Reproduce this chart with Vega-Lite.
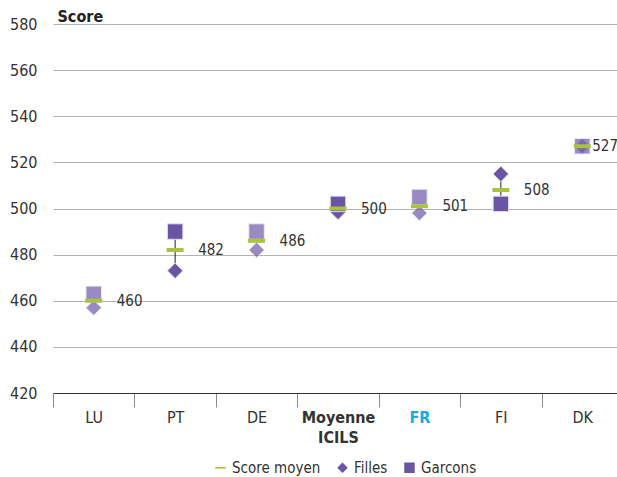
{
  "$schema": "https://vega.github.io/schema/vega-lite/v6.json",
  "autosize": "none",
  "width": 564,
  "height": 369,
  "padding": {"left": 53, "top": 24, "right": 0, "bottom": 84},
  "background": "white",
  "config": {
    "font": "DejaVu Sans Condensed, sans-serif",
    "view": {"stroke": null},
    "axis": {"labelFontSize": 15, "labelColor": "#333333", "labelFont": "DejaVu Sans Condensed, sans-serif"},
    "legend": {"labelFontSize": 15, "labelColor": "#333333", "labelFont": "DejaVu Sans Condensed, sans-serif"}
  },
  "data": {
    "values": [
      {"pays": "LU", "serie": "Score moyen", "score": 460, "sig": "non"},
      {"pays": "LU", "serie": "Filles", "score": 457, "sig": "non"},
      {"pays": "LU", "serie": "Garcons", "score": 463, "sig": "non"},
      {"pays": "PT", "serie": "Score moyen", "score": 482, "sig": "oui"},
      {"pays": "PT", "serie": "Filles", "score": 473, "sig": "oui"},
      {"pays": "PT", "serie": "Garcons", "score": 490, "sig": "oui"},
      {"pays": "DE", "serie": "Score moyen", "score": 486, "sig": "non"},
      {"pays": "DE", "serie": "Filles", "score": 482, "sig": "non"},
      {"pays": "DE", "serie": "Garcons", "score": 490, "sig": "non"},
      {"pays": "Moyenne ICILS", "serie": "Score moyen", "score": 500, "sig": "oui"},
      {"pays": "Moyenne ICILS", "serie": "Filles", "score": 498.5, "sig": "oui"},
      {"pays": "Moyenne ICILS", "serie": "Garcons", "score": 502, "sig": "oui"},
      {"pays": "FR", "serie": "Score moyen", "score": 501, "sig": "non"},
      {"pays": "FR", "serie": "Filles", "score": 498, "sig": "non"},
      {"pays": "FR", "serie": "Garcons", "score": 505, "sig": "non"},
      {"pays": "FI", "serie": "Score moyen", "score": 508, "sig": "oui"},
      {"pays": "FI", "serie": "Filles", "score": 515, "sig": "oui"},
      {"pays": "FI", "serie": "Garcons", "score": 502, "sig": "oui"},
      {"pays": "DK", "serie": "Score moyen", "score": 527, "sig": "non"},
      {"pays": "DK", "serie": "Filles", "score": 527, "sig": "non"},
      {"pays": "DK", "serie": "Garcons", "score": 527, "sig": "non"}
    ]
  },
  "encoding": {
    "x": {
      "field": "pays", "type": "nominal", "sort": null,
      "scale": {"domain": ["LU", "PT", "DE", "Moyenne ICILS", "FR", "FI", "DK"], "paddingInner": 0, "paddingOuter": 0, "range": [0, 570]},
      "axis": {
        "title": null, "labelAngle": 0, "tickBand": "extent", "tickSize": 14, "tickColor": "#8a8a8a",
        "domainColor": "#333333", "labelPadding": 2, "grid": false, "labelFontSize": 16,
        "labelExpr": "datum.value == 'Moyenne ICILS' ? ['Moyenne', 'ICILS'] : datum.value",
        "labelFontWeight": {"condition": {"test": "datum.value == 'Moyenne ICILS' || datum.value == 'FR'", "value": "bold"}, "value": "normal"},
        "labelColor": {"condition": {"test": "datum.value == 'FR'", "value": "#1aa9e6"}, "value": "#333333"},
        "labelLineHeight": 20
      }
    },
    "y": {
      "field": "score", "type": "quantitative",
      "scale": {"domain": [420, 580], "nice": false, "zero": false},
      "axis": {
        "values": [420, 440, 460, 480, 500, 520, 540, 560, 580],
        "domain": false, "ticks": false, "labelPadding": 16, "gridColor": "#b3b3b3", "gridWidth": 1, "labelFontSize": 16,
        "title": "Score", "titleAngle": 0, "titleX": 4, "titleY": -3, "titleAlign": "left", "titleBaseline": "alphabetic",
        "titleFontSize": 16, "titleFontWeight": "bold", "titleColor": "#222222", "titleFont": "DejaVu Sans Condensed, sans-serif"
      }
    }
  },
  "layer": [
    {
      "transform": [
        {"filter": "datum.serie != 'Score moyen'"},
        {"pivot": "serie", "value": "score", "groupby": ["pays", "sig"]},
        {"filter": "datum.sig == 'oui' && datum.pays != 'Moyenne ICILS'"}
      ],
      "mark": {"type": "rule", "color": "#222222", "strokeWidth": 1},
      "encoding": {
        "y": {"field": "Filles", "type": "quantitative"},
        "y2": {"field": "Garcons"}
      }
    },
    {
      "transform": [{"filter": "datum.serie != 'Score moyen'"}],
      "mark": {"type": "point", "filled": true, "size": 240, "stroke": "#e4e0f2", "strokeWidth": 1},
      "encoding": {
        "color": {
          "field": "serie", "type": "nominal",
          "scale": {"domain": ["Score moyen", "Filles", "Garcons"], "range": ["#a9c23f", "#6a55a4", "#6a55a4"]},
          "legend": {
            "title": null, "orient": "none", "direction": "horizontal", "legendX": 160, "legendY": 436,
            "symbolSize": 110, "symbolStrokeWidth": 0, "columnPadding": 14, "labelOffset": 4, "symbolOpacity": 1
          }
        },
        "shape": {
          "field": "serie", "type": "nominal",
          "scale": {"domain": ["Score moyen", "Filles", "Garcons"], "range": ["M-1,-0.16H1V0.16H-1Z", "diamond", "square"]}
        },
        "opacity": {
          "field": "sig", "type": "nominal",
          "scale": {"domain": ["oui", "non"], "range": [1, 0.68]},
          "legend": null
        }
      }
    },
    {
      "transform": [{"filter": "datum.serie == 'Score moyen'"}],
      "mark": {"type": "tick", "orient": "horizontal", "size": 17, "thickness": 4, "color": "#a9c23f", "opacity": 1},
      "encoding": {
        "color": {"field": "serie", "type": "nominal"}
      }
    },
    {
      "transform": [{"filter": "datum.serie == 'Score moyen' && datum.pays != 'DK'"}],
      "mark": {"type": "text", "align": "left", "baseline": "middle", "dx": 23, "fontSize": 15, "color": "#333333", "font": "DejaVu Sans Condensed, sans-serif"},
      "encoding": {
        "text": {"field": "score", "type": "quantitative"}
      }
    },
    {
      "transform": [{"filter": "datum.serie == 'Score moyen' && datum.pays == 'DK'"}],
      "mark": {"type": "text", "align": "left", "baseline": "middle", "dx": 10, "fontSize": 15, "color": "#333333", "font": "DejaVu Sans Condensed, sans-serif"},
      "encoding": {
        "text": {"field": "score", "type": "quantitative"}
      }
    }
  ]
}
